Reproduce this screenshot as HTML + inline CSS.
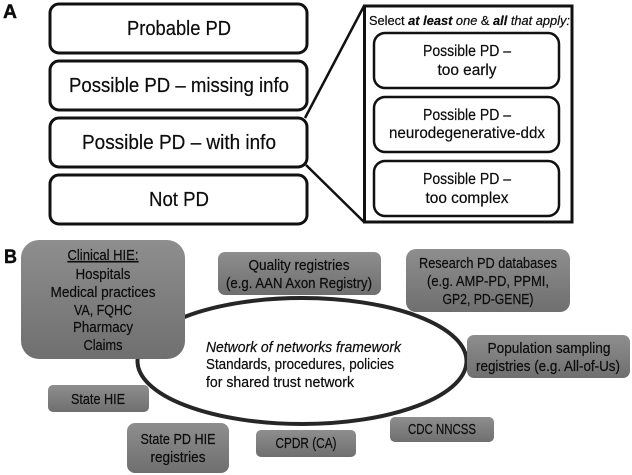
<!DOCTYPE html>
<html><head><meta charset="utf-8"><style>
html,body{margin:0;padding:0;background:#fff;width:632px;height:475px;overflow:hidden}
svg{display:block}
text{font-family:"Liberation Sans",sans-serif;fill:#0c0c0c;stroke:#0c0c0c;stroke-width:.2;text-anchor:middle}
.a{font-size:20px}.p{font-size:15.5px}.g{font-size:14.5px}
</style></head><body>
<svg width="632" height="475" viewBox="0 0 632 475" xmlns="http://www.w3.org/2000/svg">
<defs>
<linearGradient id="gr" x1="0" y1="0" x2="0" y2="1"><stop offset="0" stop-color="#8e8e8e"/><stop offset="1" stop-color="#6f6f6f"/></linearGradient>
</defs>
<g fill="#fff" stroke="#111" stroke-width="3">
<rect x="50" y="4" width="257" height="49" rx="9"/>
<rect x="50" y="61" width="257" height="49" rx="9"/>
<rect x="50" y="118" width="257" height="49" rx="9"/>
<rect x="50" y="175" width="257" height="49" rx="9"/>
</g>
<g fill="none" stroke="#111" stroke-width="2.5">
<path d="M305 118L364 6"/>
<path d="M306 165L364 222"/>
<rect x="364.500" y="6" width="207.500" height="216" stroke-width="3"/>
</g>
<g fill="#fff" stroke="#111" stroke-width="2.5">
<rect x="374" y="33" width="185" height="55" rx="11"/>
<rect x="374" y="97" width="185" height="55" rx="11"/>
<rect x="374" y="161" width="185" height="55" rx="11"/>
</g>
<text class="a" x="179" y="35" textLength="104" lengthAdjust="spacingAndGlyphs">Probable PD</text>
<text class="a" x="179" y="92" textLength="220" lengthAdjust="spacingAndGlyphs">Possible PD – missing info</text>
<text class="a" x="179" y="149" textLength="194" lengthAdjust="spacingAndGlyphs">Possible PD – with info</text>
<text class="a" x="179" y="206" textLength="60" lengthAdjust="spacingAndGlyphs">Not PD</text>
<text x="469.500" y="25" font-size="12.500" textLength="201" lengthAdjust="spacingAndGlyphs">Select <tspan font-weight="bold" font-style="italic">at least</tspan> <tspan font-style="italic">one</tspan> &amp; <tspan font-weight="bold" font-style="italic">all</tspan> <tspan font-style="italic">that apply:</tspan></text>
<text class="p" x="467" y="56" textLength="88" lengthAdjust="spacingAndGlyphs">Possible PD –</text>
<text class="p" x="467" y="75" textLength="59" lengthAdjust="spacingAndGlyphs">too early</text>
<text class="p" x="467" y="120" textLength="88" lengthAdjust="spacingAndGlyphs">Possible PD –</text>
<text class="p" x="467" y="138" textLength="156" lengthAdjust="spacingAndGlyphs">neurodegenerative-ddx</text>
<text class="p" x="467" y="184" textLength="88" lengthAdjust="spacingAndGlyphs">Possible PD –</text>
<text class="p" x="467" y="203" textLength="83" lengthAdjust="spacingAndGlyphs">too complex</text>
<text x="10" y="18" font-size="19" font-weight="bold" textLength="14" lengthAdjust="spacingAndGlyphs" style="stroke-width:.4">A</text>
<text x="10.500" y="263" font-size="19" font-weight="bold" textLength="13" lengthAdjust="spacingAndGlyphs" style="stroke-width:.4">B</text>
<ellipse cx="302" cy="361" rx="164.500" ry="63" fill="#fff" stroke="#262626" stroke-width="4"/>
<g fill="url(#gr)">
<rect x="21" y="240" width="164" height="119" rx="18"/>
<rect x="218" y="252" width="163" height="43" rx="7"/>
<rect x="406" y="249" width="164" height="63" rx="10"/>
<rect x="467" y="335" width="163" height="43" rx="7"/>
<rect x="48" y="385" width="101" height="27" rx="5"/>
<rect x="127" y="423" width="102" height="50" rx="8"/>
<rect x="256" y="430" width="100" height="27" rx="5"/>
<rect x="390" y="417" width="104" height="25" rx="5"/>
</g>
<text class="g" x="103" y="260" textLength="71" lengthAdjust="spacingAndGlyphs" text-decoration="underline">Clinical HIE:</text>
<text class="g" x="103" y="279" textLength="55" lengthAdjust="spacingAndGlyphs">Hospitals</text>
<text class="g" x="103" y="297" textLength="105" lengthAdjust="spacingAndGlyphs">Medical practices</text>
<text class="g" x="103" y="315" textLength="58" lengthAdjust="spacingAndGlyphs">VA, FQHC</text>
<text class="g" x="103" y="332" textLength="60" lengthAdjust="spacingAndGlyphs">Pharmacy</text>
<text class="g" x="103" y="350" textLength="39" lengthAdjust="spacingAndGlyphs">Claims</text>
<text class="g" x="299" y="270" textLength="101" lengthAdjust="spacingAndGlyphs">Quality registries</text>
<text class="g" x="299" y="288" textLength="146" lengthAdjust="spacingAndGlyphs">(e.g. AAN Axon Registry)</text>
<text class="g" x="488" y="268" textLength="138" lengthAdjust="spacingAndGlyphs">Research PD databases</text>
<text class="g" x="488" y="286" textLength="122" lengthAdjust="spacingAndGlyphs">(e.g. AMP-PD, PPMI,</text>
<text class="g" x="488" y="304" textLength="91" lengthAdjust="spacingAndGlyphs">GP2, PD-GENE)</text>
<text class="g" x="549" y="353" textLength="123" lengthAdjust="spacingAndGlyphs">Population sampling</text>
<text class="g" x="548" y="371" textLength="144" lengthAdjust="spacingAndGlyphs">registries (e.g. All-of-Us)</text>
<text class="g" x="98" y="404" textLength="54" lengthAdjust="spacingAndGlyphs">State HIE</text>
<text class="g" x="178" y="444" textLength="75" lengthAdjust="spacingAndGlyphs">State PD HIE</text>
<text class="g" x="178" y="462" textLength="55" lengthAdjust="spacingAndGlyphs">registries</text>
<text class="g" x="306" y="448" textLength="61" lengthAdjust="spacingAndGlyphs">CPDR (CA)</text>
<text class="g" x="442" y="434" textLength="68" lengthAdjust="spacingAndGlyphs">CDC NNCSS</text>
<text class="g" x="303.500" y="352" textLength="195" lengthAdjust="spacingAndGlyphs" font-style="italic">Network of networks framework</text>
<text x="206" y="369" font-size="14.500" textLength="188" lengthAdjust="spacingAndGlyphs" style="text-anchor:start">Standards, procedures, policies</text>
<text x="206" y="387" font-size="14.500" textLength="148" lengthAdjust="spacingAndGlyphs" style="text-anchor:start">for shared trust network</text>
</svg>
</body></html>
